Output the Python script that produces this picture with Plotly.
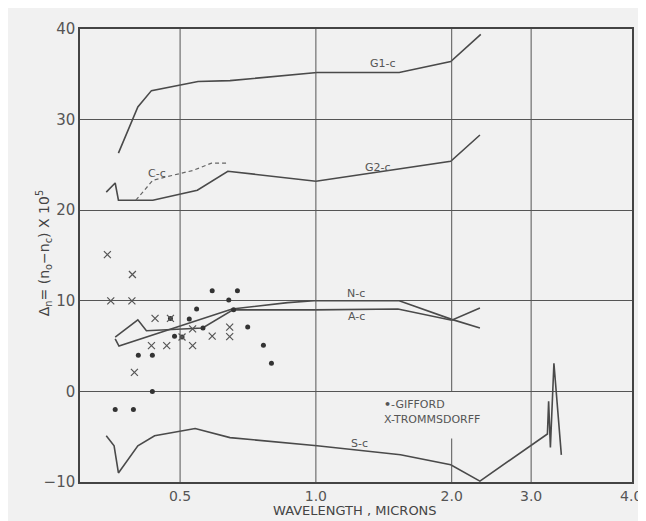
import math
import plotly.graph_objects as go

# ---- data (wavelength in microns, birefringence x 1e5) ----
g1_x = [0.365, 0.403, 0.432, 0.548, 0.645, 1.006, 1.53, 1.99, 2.32]
g1_y = [26.3, 31.4, 33.2, 34.2, 34.3, 35.2, 35.2, 36.4, 39.4]

g2_x = [0.343, 0.359, 0.365, 0.435, 0.546, 0.638, 1.0, 1.99, 2.31]
g2_y = [22.0, 23.0, 21.1, 21.1, 22.2, 24.3, 23.2, 25.4, 28.3]

cc_x = [0.399, 0.435, 0.477, 0.535, 0.587, 0.638]
cc_y = [21.1, 23.3, 23.8, 24.4, 25.2, 25.2]

nc_x = [0.359, 0.366, 0.652, 0.866, 0.991, 1.53, 2.0, 2.31]
nc_y = [5.8, 5.0, 9.1, 9.8, 10.0, 10.0, 7.95, 7.0]

ac_x = [0.359, 0.403, 0.421, 0.561, 0.655, 0.991, 1.52, 2.0, 2.31]
ac_y = [6.0, 7.9, 6.7, 7.0, 9.0, 9.0, 9.1, 7.85, 9.2]

sc_x = [0.343, 0.357, 0.365, 0.403, 0.439, 0.50, 0.540, 0.645, 1.006, 1.54, 1.99, 2.31,
        3.26, 3.28, 3.31, 3.37, 3.50]
sc_y = [-4.9, -6.0, -9.0, -6.0, -4.9, -4.4, -4.1, -5.1, -6.0, -7.0, -8.1, -9.9,
        -4.7, -1.1, -6.2, 3.1, -7.0]

gifford_x = [0.359, 0.394, 0.404, 0.434, 0.434, 0.476, 0.486, 0.505, 0.524, 0.544, 0.562,
             0.589, 0.641, 0.657, 0.670, 0.706, 0.765, 0.797]
gifford_y = [-2.0, -2.0, 4.0, 4.0, 0.0, 8.06, 6.1, 6.0, 8.0, 9.1, 7.0,
             11.1, 10.1, 9.0, 11.1, 7.1, 5.1, 3.1]

tromm_x = [0.345, 0.392, 0.351, 0.391, 0.396, 0.440, 0.476, 0.432, 0.467, 0.505,
           0.533, 0.533, 0.589, 0.644, 0.644]
tromm_y = [15.1, 12.9, 10.0, 10.0, 2.1, 8.06, 8.06, 5.06, 5.06, 6.0,
           6.9, 5.06, 6.1, 7.1, 6.05]

x_tick_vals = [0.5, 1.0, 2.0, 3.0, 5.0]
x_tick_text = ["0.5", "1.0", "2.0", "3.0", "4.0"]
y_tick_vals = [-10, 0, 10, 20, 30, 40]

line_labels = [("G1-c", 1.41, 36.2), ("G2-c", 1.37, 24.7), ("C-c", 0.444, 24.1),
               ("N-c", 1.23, 10.8), ("A-c", 1.23, 8.3), ("S-c", 1.25, -5.8)]
legend_labels = [("<b>•</b>-GIFFORD", 1.40, -1.45), ("X-TROMMSDORFF", 1.40, -3.05)]

INK = "#4a4a4a"
BG = "#f1f1f1"
FONT = "DejaVu Sans"

fig = go.Figure()
lw = 1.6
for xs, ys in [(g1_x, g1_y), (g2_x, g2_y), (nc_x, nc_y), (ac_x, ac_y), (sc_x, sc_y)]:
    fig.add_trace(go.Scatter(x=xs, y=ys, mode="lines",
                             line=dict(color=INK, width=lw), showlegend=False))
fig.add_trace(go.Scatter(x=cc_x, y=cc_y, mode="lines",
                         line=dict(color="#666", width=1.2, dash="4px,3px"), showlegend=False))
fig.add_trace(go.Scatter(x=gifford_x, y=gifford_y, mode="markers",
                         marker=dict(symbol="circle", size=5, color="#333"), showlegend=False))
fig.add_trace(go.Scatter(x=tromm_x, y=tromm_y, mode="markers",
                         marker=dict(symbol="x-thin", size=7, line=dict(color="#555", width=1.2)),
                         showlegend=False))

# vertical grid lines
shapes = []
for xv in [0.5, 1.0, 3.0]:
    shapes.append(dict(type="line", xref="x", yref="y", x0=xv, x1=xv, y0=-10, y1=40,
                       line=dict(color="#555", width=1)))
shapes.append(dict(type="line", xref="x", yref="y", x0=2.0, x1=2.0, y0=0, y1=40,
                   line=dict(color="#555", width=1)))
shapes.append(dict(type="line", xref="x", yref="y", x0=2.0, x1=2.0, y0=-10, y1=-5.2,
                   line=dict(color="#555", width=1)))

annotations = []
for txt, xv, yv in line_labels:
    annotations.append(dict(x=math.log10(xv), y=yv, xref="x", yref="y", text=txt, showarrow=False,
                            font=dict(size=11, color="#555", family=FONT)))
for txt, xv, yv in legend_labels:
    annotations.append(dict(x=math.log10(xv), y=yv, xref="x", yref="y", xanchor="left",
                            text=txt, showarrow=False,
                            font=dict(size=11, color="#555", family=FONT)))
annotations.append(dict(x=-0.087, y=0.505, xref="paper", yref="paper", textangle=-90,
                        text="Δ<sub>n</sub>= (n<sub>o</sub>−n<sub>c</sub>) X 10<sup>5</sup>",
                        showarrow=False, font=dict(size=14, color="#444", family=FONT)))
annotations.append(dict(x=0.499, y=-0.084, xref="paper", yref="paper",
                        text="WAVELENGTH , MICRONS", showarrow=False,
                        font=dict(size=13, color="#444", family=FONT)))

fig.update_layout(
    width=646, height=521,
    margin=dict(l=72, r=13, t=12, b=47),
    paper_bgcolor=BG, plot_bgcolor=BG,
    shapes=shapes, annotations=annotations,
    xaxis=dict(type="log", range=[-0.5229, 0.7007], tickvals=x_tick_vals, ticktext=x_tick_text,
               showgrid=False, zeroline=False, showline=True, mirror=True,
               linecolor="#444", linewidth=1.5, ticks="",
               tickfont=dict(size=14, color="#555", family=FONT)),
    yaxis=dict(range=[-10, 40], tickvals=y_tick_vals, showgrid=True, gridcolor="#555",
               gridwidth=1, zeroline=False, showline=True, mirror=True,
               linecolor="#444", linewidth=1.5, ticks="",
               tickfont=dict(size=15, color="#555", family=FONT)),
)

fig.write_html("out.html")
